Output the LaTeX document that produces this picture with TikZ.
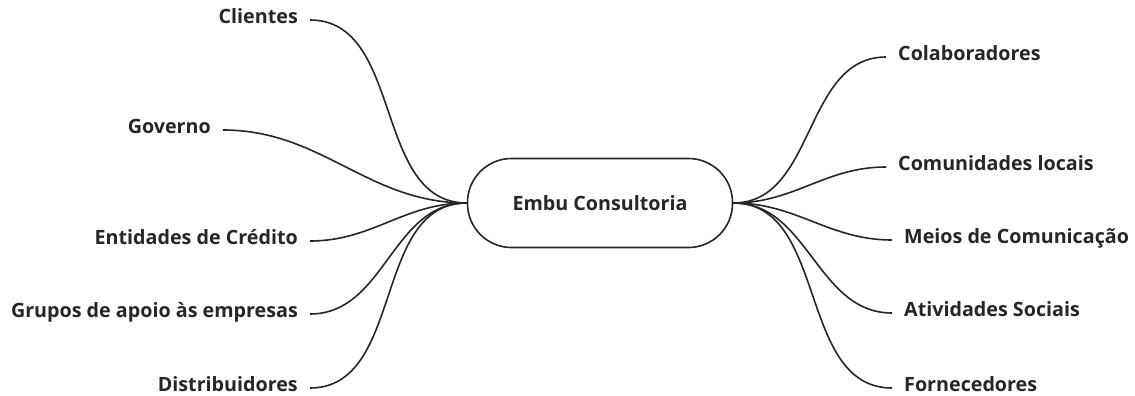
\documentclass[tikz,border=0pt]{standalone}
\usepackage{fontspec}
\setmainfont{Open Sans}
\usetikzlibrary{positioning}

\begin{document}
\begin{tikzpicture}[x=1pt,y=-1pt]
\tikzset{
hub/.style={
  draw=black!85,
  line width=1.6pt,
  rounded corners=44pt,
  minimum width=265pt,
  minimum height=89pt,
  text=black!85,
  font=\bfseries\fontsize{19.7}{23}\selectfont
  },
leaf/.style={
  text=black!85,
  font=\bfseries\fontsize{19.7}{23}\selectfont,
  text height=0.714em,
  text depth=0pt,
  inner ysep=0pt,
  inner xsep=12pt
  },
branch/.style={
  draw=black!85,
  line width=1.6pt
  }
}

\useasboundingbox (0,0) rectangle (1135,396);

\node[hub] (hub) at (600,203) {Embu Consultoria};

\node[leaf, anchor=east] (clientes) at (310,20)  {Clientes};
\node[leaf, anchor=east] (governo)  at (223,130) {Governo};
\node[leaf, anchor=east] (credito)  at (310,241) {Entidades de Crédito};
\node[leaf, anchor=east] (apoio)    at (310,314) {Grupos de apoio às empresas};
\node[leaf, anchor=east] (distrib)  at (310,388) {Distribuidores};

\node[leaf, anchor=west] (colab)    at (886,57)  {Colaboradores};
\node[leaf, anchor=west] (comunid)  at (886,167) {Comunidades locais};
\node[leaf, anchor=west] (meios)    at (892,240) {Meios de Comunicação};
\node[leaf, anchor=west] (ativ)     at (892,313) {Atividades Sociais};
\node[leaf, anchor=west] (fornec)   at (892,388) {Fornecedores};

\draw[branch] (hub.west) to[out=180, in=0] (clientes.east);
\draw[branch] (hub.west) to[out=180, in=0] (governo.east);
\draw[branch] (hub.west) to[out=180, in=0] (credito.east);
\draw[branch] (hub.west) to[out=180, in=0] (apoio.east);
\draw[branch] (hub.west) to[out=180, in=0] (distrib.east);

\draw[branch] (hub.east) to[out=0, in=180] (colab.west);
\draw[branch] (hub.east) to[out=0, in=180] (comunid.west);
\draw[branch] (hub.east) to[out=0, in=180] (meios.west);
\draw[branch] (hub.east) to[out=0, in=180] (ativ.west);
\draw[branch] (hub.east) to[out=0, in=180] (fornec.west);

\end{tikzpicture}
\end{document}
